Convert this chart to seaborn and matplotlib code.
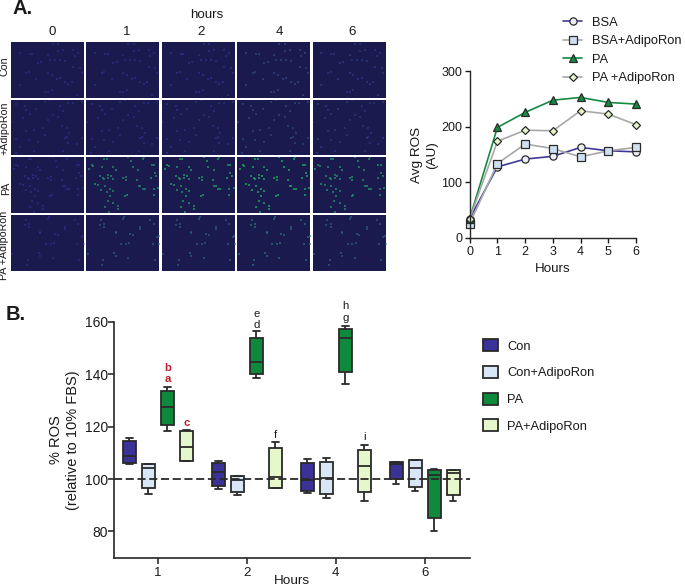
import matplotlib
matplotlib.use("Agg")
import matplotlib.pyplot as plt
from matplotlib.colors import to_rgb
import pandas as pd
import seaborn as sns

W, H = 685, 587

# --- panel A: average ROS time course ---
time_hours = [0, 1, 2, 3, 4, 5, 6]
bsa = [35, 128, 142, 147, 163, 157, 155]
bsa_adipo = [26, 134, 169, 161, 146, 157, 163]
pa = [35, 199, 226, 248, 253, 244, 241]
pa_adipo = [35, 174, 194, 193, 229, 223, 204]

# --- panel A: micrographs, bright cells ---
col_labels = ["0", "1", "2", "4", "6"]
row_labels = ["Con", "+AdipoRon", "PA", "PA +AdipoRon"]
spots_con = [(60, 42), (68, 42), (30, 40), (95, 65), (85, 68), (115, 45), (120, 60), (135, 60), (145, 35),
             (160, 30), (150, 60), (165, 62), (190, 30), (205, 40), (195, 50), (190, 80), (210, 85), (115, 100),
             (125, 105), (50, 98), (58, 95), (140, 118), (150, 115), (165, 125), (175, 130), (185, 125), (80, 118),
             (30, 135), (105, 155), (115, 155), (125, 150), (215, 100), (200, 165), (130, 12), (145, 12)]
spots_adipo = [(20, 20), (45, 28), (50, 38), (60, 50), (80, 35), (105, 15), (120, 8), (150, 28), (175, 18),
               (188, 18), (215, 15), (40, 62), (130, 52), (145, 58), (115, 68), (160, 40), (50, 100), (72, 98),
               (100, 92), (155, 85), (170, 92), (178, 105), (170, 118), (165, 122), (105, 112), (20, 124), (58, 126),
               (85, 132), (175, 135), (30, 148), (18, 166), (72, 160), (160, 158), (215, 120), (200, 140), (5, 75)]
spots_pa = [(58, 13), (65, 13), (130, 8), (175, 8), (138, 20), (172, 12), (200, 30), (207, 30), (20, 32), (12, 42),
            (25, 35), (50, 37), (85, 38), (92, 45), (142, 36), (158, 44), (208, 55), (213, 62), (198, 68), (45, 63),
            (55, 68), (70, 60), (78, 62), (70, 70), (85, 72), (58, 72), (115, 70), (122, 66), (122, 74), (155, 76),
            (30, 88), (40, 90), (60, 93), (160, 93), (165, 93), (172, 102), (178, 102), (205, 100), (218, 98),
            (48, 103), (75, 100), (85, 106), (65, 110), (75, 122), (120, 122), (125, 118), (205, 118), (68, 138),
            (85, 142), (60, 155), (100, 150), (100, 160), (72, 170)]
spots_pa_adipo = [(48, 22), (118, 15), (115, 20), (45, 38), (58, 35), (58, 42), (195, 24), (205, 35), (165, 42),
                  (165, 48), (92, 58), (92, 62), (135, 65), (143, 68), (215, 72), (220, 70), (108, 92), (122, 92),
                  (132, 90), (202, 93), (222, 92), (8, 124), (88, 120), (92, 128), (130, 135), (55, 140), (52, 155),
                  (208, 140)]
row_spots = [spots_con, spots_adipo, spots_pa, spots_pa_adipo]
# how green each picture looks (0 = only blue, 1 = bright green)
green_level = [[0.0, 0.0, 0.05, 0.3, 0.12],
               [0.0, 0.0, 0.08, 0.3, 0.15],
               [0.0, 0.8, 0.9, 1.0, 0.85],
               [0.0, 0.45, 0.45, 0.6, 0.45]]

# --- panel B: box plots, min / q1 / median / q3 / max ---
box_hours = ["1", "2", "4", "6"]
box_groups = ["Con", "Con+AdipoRon", "PA", "PA+AdipoRon"]
con_box = [[105.9, 106, 108.9, 114.4, 115.5], [96.2, 97.5, 102.5, 106.1, 107],
           [94.8, 95.3, 99.5, 106.2, 107.6], [98.2, 100.1, 105.9, 106.4, 106.6]]
con_adipo_box = [[94.4, 96.4, 104.3, 105.9, 105.9], [93.8, 94.9, 99.6, 101.1, 101.1],
                 [92.9, 94.4, 100.4, 106.4, 108], [95.4, 97, 104.2, 107.4, 107.4]]
pa_box = [[118.2, 120.5, 127.6, 133.5, 135.2], [138.6, 140, 144.7, 153.6, 156.4],
          [136.4, 140.8, 153.8, 157.2, 158.2], [80.3, 85, 101.4, 103.6, 103.8]]
pa_adipo_box = [[106.8, 106.8, 112.4, 118.2, 118.6], [96.7, 96.7, 100.9, 111.8, 114.1],
                [91.8, 94.9, 104.8, 111.2, 113.1], [91.5, 94.1, 102.3, 103.3, 103.4]]

# letter, hour index, group index, value height
sig_letters = ["b", "a", "c", "e", "d", "h", "g", "f", "i"]
sig_hour = [0, 0, 0, 1, 1, 2, 2, 1, 2]
sig_group = [2, 2, 3, 2, 2, 2, 2, 3, 3]
sig_height = [142.4, 138.2, 121.4, 163, 158.6, 166, 161.5, 116.8, 116]

box_colors = ["#3a3296", "#d9e6f5", "#0f8a3c", "#e6f7cc"]
dark = "#2a2a2a"

sns.set_style("ticks")
plt.rcParams["font.family"] = ["Liberation Sans", "DejaVu Sans"]
plt.rcParams["text.color"] = "#1a1a1a"
plt.rcParams["axes.labelcolor"] = "#1a1a1a"
plt.rcParams["xtick.color"] = "#1a1a1a"
plt.rcParams["ytick.color"] = "#1a1a1a"

fig = plt.figure(figsize=(W / 100, H / 100), dpi=100)


def px_axes(left, top, right, bottom):
    return fig.add_axes([left / W, 1 - bottom / H, (right - left) / W, (bottom - top) / H])


def fig_text(x, y, s, **kw):
    fig.text(x / W, 1 - y / H, s, ha=kw.pop("ha", "center"), va=kw.pop("va", "center"), **kw)


# micrograph grid
col_edges = [(11, 84), (86.3, 159.3), (162, 235), (237.3, 310.3), (312.7, 385.7)]
row_edges = [(42.3, 97.7), (99.7, 155.3), (157.3, 213), (215, 270.7)]
blue, green = to_rgb("#3f3cb0"), to_rgb("#1fa85c")
for r, (top, bottom) in enumerate(row_edges):
    xs = [p[0] for p in row_spots[r]]
    ys = [p[1] for p in row_spots[r]]
    for c, (left, right) in enumerate(col_edges):
        ax = px_axes(left, top, right, bottom)
        ax.set_facecolor("#1a1a4e")
        g = green_level[r][c]
        color = tuple(b * (1 - g) + gr * g for b, gr in zip(blue, green))
        sns.scatterplot(x=xs, y=ys, color=color, marker="s", s=2.2, linewidth=0, alpha=0.4 + 0.35 * g, ax=ax)
        ax.set_xlim(4, 222)
        ax.set_ylim(172, 8)
        ax.set_xticks([])
        ax.set_yticks([])
        for sp in ax.spines.values():
            sp.set_visible(False)

col_x = [52, 127, 201, 279, 352]
for x, lab in zip(col_x, col_labels):
    fig_text(x, 32, lab, fontsize=9.6)
fig_text(207, 15, "hours", fontsize=9.6)
row_y = [66, 128, 188, 245]
row_lab_x = [4.5, 4.5, 6, 4.5]
for x, y, lab in zip(row_lab_x, row_y, row_labels):
    fig_text(x, y, lab, fontsize=7.7, rotation=90)
fig_text(23, 9, "A.", fontsize=14.5, fontweight="bold")
fig_text(16, 315, "B.", fontsize=14.5, fontweight="bold")

# time course
ax_line = px_axes(469.7, 71.3, 636, 238)
line_specs = [
    ("BSA", bsa, "#3f3a9a", "o", "#eeeef6", 5.2),
    ("BSA+AdipoRon", bsa_adipo, "#a8a8a8", "s", "#cfdff0", 5.2),
    ("PA", pa, "#148a43", "^", "#148a43", 5.6),
    ("PA +AdipoRon", pa_adipo, "#a8a8a8", "D", "#e6f5c8", 3.7),
]
for name, vals, col, mk, face, size in line_specs:
    sns.lineplot(x=time_hours, y=vals, color=col, marker=mk, markersize=size, markerfacecolor=face,
                 markeredgecolor=dark, markeredgewidth=0.9, linewidth=1.2, label=name, clip_on=False,
                 ax=ax_line, legend=False)
ax_line.set_xlim(0, 6)
ax_line.set_ylim(0, 300)
ax_line.set_xticks(time_hours)
ax_line.set_yticks([0, 100, 200, 300])
ax_line.set_xlabel("Hours", fontsize=9.6, labelpad=4)
ax_line.set_ylabel("Avg ROS\n(AU)", fontsize=9.7, labelpad=2, linespacing=1.35)
ax_line.tick_params(labelsize=9, length=3.5, width=1, pad=2)
sns.despine(ax=ax_line)
for sp in ax_line.spines.values():
    sp.set_linewidth(1)
handles, labels = ax_line.get_legend_handles_labels()
ax_line.legend(handles, labels, loc="upper left", bbox_to_anchor=(563 / W, 1 - 16.5 / H),
               bbox_transform=fig.transFigure, frameon=False, fontsize=9.3, borderpad=0, borderaxespad=0,
               handlelength=1.5, handletextpad=0.78, labelspacing=0.5)

# box plots
rows = []
for group, table in zip(box_groups, [con_box, con_adipo_box, pa_box, pa_adipo_box]):
    for hour, values in zip(box_hours, table):
        for v in values:
            rows.append({"hour": hour, "group": group, "value": v})
df = pd.DataFrame(rows)

ax_box = px_axes(114, 321.7, 470, 557.7)
sns.boxplot(data=df, x="hour", y="value", hue="group", order=box_hours, hue_order=box_groups,
            palette=box_colors, whis=(0, 100), width=0.854, gap=0.316, saturation=1, linewidth=1.3,
            linecolor=dark, fliersize=0, ax=ax_box)
ax_box.axhline(100, color=dark, linewidth=1.3, dashes=(4.5, 2), zorder=6)
ax_box.set_xlim(-0.494, 3.509)
ax_box.set_ylim(70, 160)
ax_box.set_yticks([80, 100, 120, 140, 160])
ax_box.set_xlabel("Hours", fontsize=9.7, labelpad=-3)
ax_box.set_ylabel("% ROS\n(relative to 10% FBS)", fontsize=10.5, labelpad=3, linespacing=1.3)
ax_box.tick_params(axis="y", labelsize=10, length=4, width=1.1, pad=0.5)
ax_box.tick_params(axis="x", labelsize=9.5, length=4, width=1.1, pad=3)
sns.despine(ax=ax_box)
for sp in ax_box.spines.values():
    sp.set_linewidth(1.2)

for lab, h, g, y in zip(sig_letters, sig_hour, sig_group, sig_height):
    red = lab in ("a", "b", "c")
    ax_box.text(h + (g - 1.5) * 0.2135, y, lab, ha="center", va="center", fontsize=8.2,
                color="#c0202a" if red else "#1a1a1a", fontweight="bold" if red else "normal", clip_on=False)

ax_box.legend(loc="upper left", bbox_to_anchor=(483 / W, 1 - 339.5 / H), bbox_transform=fig.transFigure,
              frameon=False, fontsize=9.3, borderpad=0, borderaxespad=0, handlelength=1.16, handleheight=1.05,
              handletextpad=0.72, labelspacing=1.02, title=None)

fig.savefig("out.png", dpi=100)
